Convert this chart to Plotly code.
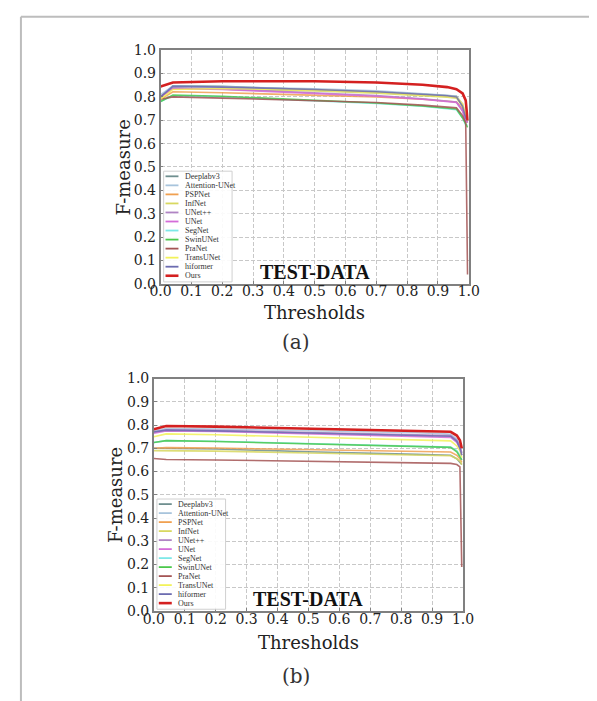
import plotly.graph_objects as go

# ---------------- data ----------------
names = ["Deeplabv3", "Attention-UNet", "PSPNet", "InfNet", "UNet++", "UNet",
         "SegNet", "SwinUNet", "PraNet", "TransUNet", "hiformer", "Ours"]

thresholds = [0.0, 0.04, 0.2, 0.5, 0.7, 0.85, 0.93, 0.96, 0.98, 0.99, 0.996]

fm_a = {
    "Deeplabv3":      [0.800, 0.848, 0.845, 0.832, 0.822, 0.812, 0.806, 0.803, 0.760, 0.710, 0.700],
    "Attention-UNet": [0.810, 0.846, 0.843, 0.835, 0.826, 0.815, 0.807, 0.803, 0.770, 0.720, 0.700],
    "PSPNet":         [0.790, 0.822, 0.818, 0.808, 0.800, 0.790, 0.782, 0.778, 0.750, 0.710, 0.690],
    "InfNet":         [0.800, 0.835, 0.833, 0.825, 0.816, 0.806, 0.799, 0.795, 0.760, 0.710, 0.700],
    "UNet++":         [0.800, 0.838, 0.834, 0.818, 0.806, 0.792, 0.782, 0.778, 0.740, 0.700, 0.690],
    "UNet":           [0.800, 0.836, 0.832, 0.815, 0.803, 0.790, 0.780, 0.776, 0.740, 0.700, 0.690],
    "SegNet":         [0.780, 0.805, 0.800, 0.785, 0.772, 0.760, 0.750, 0.745, 0.710, 0.680, 0.680],
    "SwinUNet":       [0.780, 0.808, 0.803, 0.787, 0.774, 0.761, 0.752, 0.748, 0.710, 0.680, 0.670],
    "PraNet":         [0.790, 0.800, 0.795, 0.785, 0.776, 0.765, 0.757, 0.753, 0.720, 0.690, 0.040],
    "TransUNet":      [0.790, 0.832, 0.836, 0.830, 0.820, 0.810, 0.803, 0.800, 0.770, 0.720, 0.700],
    "hiformer":       [0.800, 0.845, 0.842, 0.832, 0.822, 0.812, 0.805, 0.800, 0.760, 0.710, 0.700],
    "Ours":           [0.845, 0.862, 0.867, 0.867, 0.862, 0.852, 0.842, 0.833, 0.815, 0.785, 0.700],
}

fm_b = {
    "Deeplabv3":      [0.700, 0.700, 0.697, 0.685, 0.680, 0.674, 0.671, 0.670, 0.655, 0.640, 0.630],
    "Attention-UNet": [0.775, 0.785, 0.783, 0.776, 0.772, 0.767, 0.763, 0.760, 0.740, 0.710, 0.680],
    "PSPNet":         [0.700, 0.703, 0.701, 0.694, 0.690, 0.687, 0.685, 0.684, 0.670, 0.655, 0.640],
    "InfNet":         [0.690, 0.690, 0.688, 0.680, 0.676, 0.672, 0.669, 0.668, 0.655, 0.645, 0.630],
    "UNet++":         [0.770, 0.780, 0.777, 0.768, 0.764, 0.759, 0.756, 0.755, 0.735, 0.710, 0.680],
    "UNet":           [0.765, 0.775, 0.772, 0.762, 0.757, 0.752, 0.749, 0.747, 0.725, 0.700, 0.670],
    "SegNet":         [0.725, 0.733, 0.730, 0.721, 0.715, 0.710, 0.707, 0.705, 0.690, 0.670, 0.650],
    "SwinUNet":       [0.725, 0.733, 0.729, 0.719, 0.714, 0.709, 0.706, 0.704, 0.685, 0.665, 0.650],
    "PraNet":         [0.656, 0.652, 0.650, 0.645, 0.642, 0.639, 0.637, 0.635, 0.630, 0.620, 0.190],
    "TransUNet":      [0.750, 0.762, 0.758, 0.747, 0.742, 0.737, 0.734, 0.732, 0.710, 0.690, 0.660],
    "hiformer":       [0.770, 0.778, 0.775, 0.766, 0.762, 0.757, 0.754, 0.752, 0.730, 0.700, 0.670],
    "Ours":           [0.782, 0.796, 0.793, 0.785, 0.781, 0.776, 0.773, 0.771, 0.755, 0.735, 0.700],
}

ticks = [0.0, 0.1, 0.2, 0.3, 0.4, 0.5, 0.6, 0.7, 0.8, 0.9, 1.0]
tick_text = ["0.0", "0.1", "0.2", "0.3", "0.4", "0.5", "0.6", "0.7", "0.8", "0.9", "1.0"]

# ---------------- style ----------------
colors = {
    "Deeplabv3": "#6f8f8f", "Attention-UNet": "#a8c4dc", "PSPNet": "#f0a050",
    "InfNet": "#d8d860", "UNet++": "#b084c4", "UNet": "#d46cd8",
    "SegNet": "#7ee8e8", "SwinUNet": "#4cc84c", "PraNet": "#a45454",
    "TransUNet": "#f2f25a", "hiformer": "#6c6cb0", "Ours": "#d42020",
}
W, H = 597, 701
OFF = 8  # page body margin: the figure is drawn 8px right/down in the browser
SERIF = "DejaVu Serif"


def px(x):
    return (x - OFF) / W


def py(y):
    return 1 - (y - OFF) / H


fig = go.Figure()

panels = [
    (fm_a, "x", "y", (155, 475, 43, 282), (116, 163), (315, 311)),
    (fm_b, "x2", "y2", (148, 469, 379, 617), (109, 498), (309, 649)),
]

for data, xr, yr, *_ in panels:
    for n in names:
        fig.add_trace(go.Scatter(
            x=thresholds, y=data[n], mode="lines", name=n, showlegend=False,
            xaxis=xr, yaxis=yr,
            line=dict(color=colors[n], width=2.6 if n == "Ours" else 1.6),
            opacity=1.0 if n == "Ours" else 0.85,
        ))


def axis_common():
    return dict(
        range=[0, 1], tickvals=ticks, ticktext=tick_text,
        showgrid=True, gridcolor="#c8c8c8", griddash="4px,2px", gridwidth=1,
        showline=True, linecolor="#808080", linewidth=1.5, mirror=True,
        ticks="inside", ticklen=3, tickcolor="#808080",
        tickfont=dict(family=SERIF, size=14, color="#222"),
        zeroline=False, fixedrange=True,
    )


layout_axes = {}
for i, (_, xr, yr, (l, r, t, b), _, _) in enumerate(panels):
    xa = axis_common()
    xa.update(domain=[px(l), px(r)], anchor=yr, ticklabelstandoff=-6)
    ya = axis_common()
    ya.update(domain=[py(b), py(t)], anchor=xr, ticklabelstandoff=0)
    suffix = "" if i == 0 else "2"
    layout_axes["xaxis" + suffix] = xa
    layout_axes["yaxis" + suffix] = ya

fig.update_layout(
    width=W, height=H, margin=dict(l=0, r=0, t=0, b=0),
    paper_bgcolor="white", plot_bgcolor="white", showlegend=False,
    **layout_axes,
)

shapes = []
annotations = []

# outer page frame (top and left edges)
shapes.append(dict(type="line", xref="paper", yref="paper", x0=px(10), x1=1, y0=0.999, y1=0.999,
                   line=dict(color="#bdbdbd", width=2)))
shapes.append(dict(type="line", xref="paper", yref="paper", x0=px(10), x1=px(10), y0=0, y1=0.999,
                   line=dict(color="#bdbdbd", width=2)))

for i, (_, xr, yr, _, ytitle, xtitle) in enumerate(panels):
    xd = xr + " domain"
    yd = yr + " domain"
    # legend box
    shapes.append(dict(type="rect", xref=xd, yref=yd, x0=0.01, x1=0.232, y0=0.008, y1=0.482,
                       line=dict(color="#d0d0d0", width=1), fillcolor="rgba(255,255,255,0.9)", layer="above"))
    top = 0.46
    step = 0.0387
    for k, n in enumerate(names):
        yy = top - k * step
        shapes.append(dict(type="line", xref=xd, yref=yd, x0=0.016, x1=0.058, y0=yy, y1=yy,
                           line=dict(color=colors[n], width=2.6 if n == "Ours" else 1.8), layer="above"))
        annotations.append(dict(xref=xd, yref=yd, x=0.072, y=yy, text=n, showarrow=False,
                                xanchor="left", yanchor="middle",
                                font=dict(family="Liberation Serif", size=8, color="#333")))
    annotations.append(dict(xref=xd, yref=yd, x=0.5, y=0.052, text="<b>TEST-DATA</b>", showarrow=False,
                            xanchor="center", yanchor="middle",
                            font=dict(family="Liberation Serif", size=20, color="#111")))
    # axis titles
    annotations.append(dict(xref="paper", yref="paper", x=px(ytitle[0]), y=py(ytitle[1]), text="F-measure",
                            showarrow=False, textangle=-90, xanchor="center", yanchor="middle",
                            font=dict(family=SERIF, size=18, color="#222")))
    annotations.append(dict(xref="paper", yref="paper", x=px(xtitle[0]), y=py(xtitle[1]), text="Thresholds",
                            showarrow=False, xanchor="center", yanchor="middle",
                            font=dict(family=SERIF, size=18, color="#222")))

annotations.append(dict(xref="paper", yref="paper", x=px(296), y=py(342), text="(a)", showarrow=False,
                        xanchor="center", yanchor="middle", font=dict(family=SERIF, size=20, color="#333")))
annotations.append(dict(xref="paper", yref="paper", x=px(296), y=py(683), text="(b)", showarrow=False,
                        xanchor="center", yanchor="middle", font=dict(family=SERIF, size=20, color="#333")))

fig.update_layout(shapes=shapes, annotations=annotations)

fig.write_html("out.html")
